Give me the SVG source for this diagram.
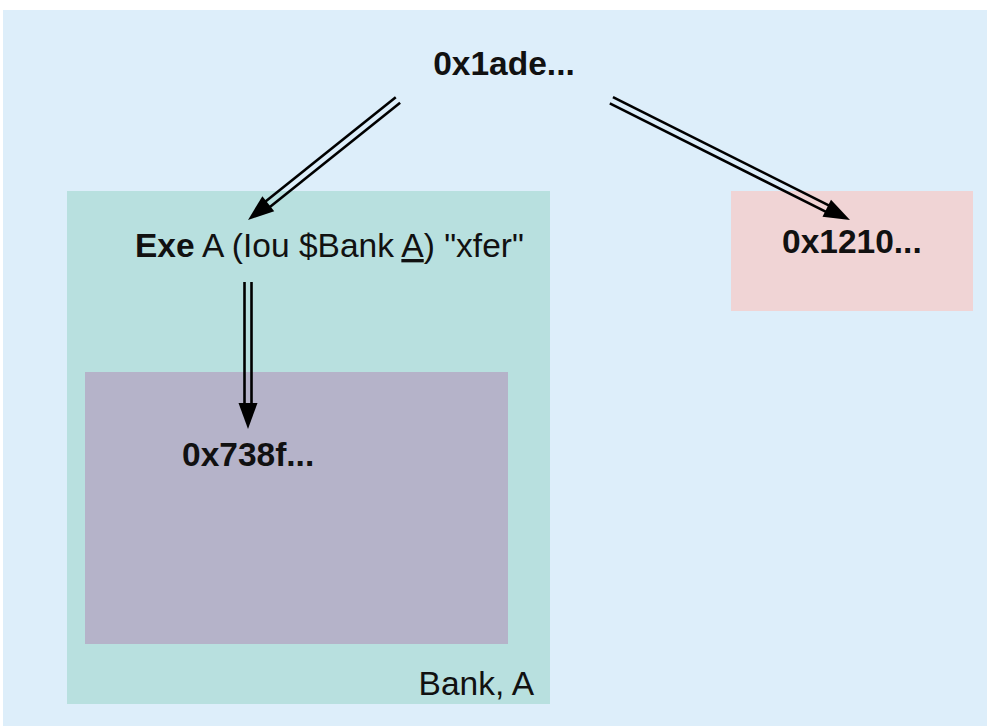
<svg xmlns="http://www.w3.org/2000/svg" width="987" height="726" viewBox="0 0 987 726">
<style>
.t{font-family:"Liberation Sans",Arial,sans-serif;font-size:33.5px;fill:#111}
.b{font-weight:bold}
.ln{stroke:#000;stroke-width:2.6;fill:none}
.hd{fill:#000}
</style>
<rect width="987" height="726" fill="#ffffff"/>
<g id="root">
<rect x="3" y="10" width="984" height="716" fill="#DDEEFA"/>
<text class="t b" x="504" y="75" text-anchor="middle">0x1ade...</text>
</g>
<g id="bank">
<rect x="67" y="191" width="483" height="513" fill="#B8E0DF"/>
<text class="t" x="534" y="695" text-anchor="end">Bank, A</text>
</g>
<g id="exe">
<text class="t" x="135" y="257"><tspan class="b">Exe</tspan> A (Iou $Bank <tspan text-decoration="underline">A</tspan>) "xfer"</text>
</g>
<g id="inner">
<rect x="85" y="372" width="423" height="272" fill="#B5B3C9"/>
<text class="t b" x="182" y="466">0x738f...</text>
</g>
<g id="other">
<rect x="731" y="191" width="242" height="120" fill="#F0D4D5"/>
<text class="t b" x="782" y="253">0x1210...</text>
</g>
<g id="connectors">
<g transform="translate(248,220) rotate(141.34)">
<line class="ln" x1="-192" y1="-3.5" x2="-20" y2="-3.5"/>
<line class="ln" x1="-192" y1="3.5" x2="-20" y2="3.5"/>
<polygon class="hd" points="0,0 -26,-9.5 -26,9.5"/>
</g>
<g transform="translate(850,220) rotate(26.66)">
<line class="ln" x1="-267" y1="-3.5" x2="-20" y2="-3.5"/>
<line class="ln" x1="-267" y1="3.5" x2="-20" y2="3.5"/>
<polygon class="hd" points="0,0 -26,-9.5 -26,9.5"/>
</g>
<g transform="translate(248,429) rotate(90)">
<line class="ln" x1="-147" y1="-3.5" x2="-20" y2="-3.5"/>
<line class="ln" x1="-147" y1="3.5" x2="-20" y2="3.5"/>
<polygon class="hd" points="0,0 -26,-9.5 -26,9.5"/>
</g>
</g>
</svg>
